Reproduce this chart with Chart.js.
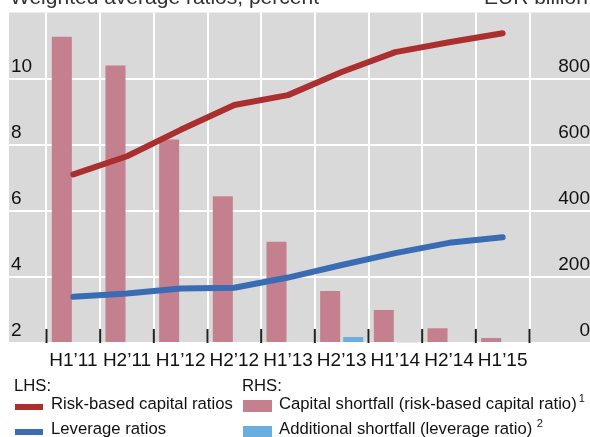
<!DOCTYPE html>
<html><head><meta charset="utf-8">
<script src="https://cdn.jsdelivr.net/npm/chart.js@4.4.1/dist/chart.umd.min.js"></script>
<style>
html,body{margin:0;padding:0;background:#fff;}
#wrap{position:relative;width:590px;height:437px;overflow:hidden;font-family:Arial,"Liberation Sans",sans-serif;color:#111;}
#c{position:absolute;left:0;top:0;}
.t{position:absolute;white-space:nowrap;font-size:16.7px;line-height:16.7px;}
.title{position:absolute;white-space:nowrap;font-size:21px;line-height:21px;color:#333;}
.sw{position:absolute;}
.sup{position:relative;font-size:11px;top:-7px;margin-left:2px;}
</style></head>
<body>
<div id="wrap">
<canvas id="c" width="590" height="437"></canvas>
<div class="title" style="left:10px;top:-13.8px;">Weighted average ratios, percent</div>
<div class="title" style="left:484px;top:-13.8px;">EUR billion</div>
<div class="t" style="left:14px;top:377.9px;">LHS:</div>
<div class="t" style="left:242px;top:377.9px;">RHS:</div>
<div class="sw" style="left:14.7px;top:404.3px;width:28.6px;height:5.7px;background:#ab2f2f;"></div>
<div class="t" style="left:51px;top:396.4px;">Risk-based capital ratios</div>
<div class="sw" style="left:14.7px;top:429.3px;width:28.6px;height:5.7px;background:#3a6cb4;"></div>
<div class="t" style="left:51px;top:421.4px;">Leverage ratios</div>
<div class="sw" style="left:243.3px;top:400.3px;width:28.4px;height:11.4px;background:#c4808f;"></div>
<div class="t" style="left:279px;top:396.4px;">Capital shortfall (risk-based capital ratio)<span class="sup">1</span></div>
<div class="sw" style="left:243.3px;top:426px;width:28.4px;height:11.4px;background:#6aaee0;"></div>
<div class="t" style="left:279px;top:421.4px;">Additional shortfall (leverage ratio) <span class="sup" style="margin-left:0">2</span></div>
</div>
<script>
const categories = ["H1\u201911","H2\u201911","H1\u201912","H2\u201912","H1\u201913","H2\u201913","H1\u201914","H2\u201914","H1\u201915"];
const riskBasedRatios = [7.1, 7.65, 8.45, 9.2, 9.5, 10.2, 10.8, 11.1, 11.37];
const leverageRatios = [3.4, 3.5, 3.65, 3.67, 3.98, 4.36, 4.72, 5.03, 5.2];
const capitalShortfall = [927, 840, 616, 444, 306, 157, 100, 45, 15];
const additionalShortfall = [0, 0, 0, 0, 0, 18, 2, 0, 0];
const leftTicks = [2, 4, 6, 8, 10, 12];
const rightTicks = [0, 200, 400, 600, 800, 1000];

const FONT = {family: 'Arial, "Liberation Sans", sans-serif', size: 19};

const bgPlugin = {
  id: 'bgPlugin',
  beforeDraw(chart) {
    const {ctx, chartArea: a} = chart;
    ctx.save();
    ctx.fillStyle = '#d9d9d9';
    const left = a.left - 37.5;
    ctx.fillRect(left, a.top, chart.width - left, a.bottom - a.top);
    ctx.restore();
  },
  afterDraw(chart) {
    const {ctx, chartArea: a} = chart;
    const xs = chart.scales.x;
    const w = xs.getPixelForValue(1) - xs.getPixelForValue(0);
    ctx.save();
    ctx.strokeStyle = '#222';
    ctx.lineWidth = 2;
    for (let i = 0; i <= categories.length; i++) {
      const px = xs.getPixelForValue(0) - w / 2 + i * w;
      ctx.beginPath();
      ctx.moveTo(px, a.bottom - 14);
      ctx.lineTo(px, a.bottom);
      ctx.stroke();
    }
    ctx.restore();
  }
};

new Chart(document.getElementById('c'), {
  data: {
    labels: categories,
    datasets: [
      {type: 'line', label: 'Risk-based capital ratios', data: riskBasedRatios, yAxisID: 'y',
       borderColor: '#ab2f2f', borderWidth: 6, pointRadius: 0, tension: 0,
       borderCapStyle: 'round', borderJoinStyle: 'round', order: 0},
      {type: 'line', label: 'Leverage ratios', data: leverageRatios, yAxisID: 'y',
       borderColor: '#3a6cb4', borderWidth: 6, pointRadius: 0, tension: 0,
       borderCapStyle: 'round', borderJoinStyle: 'round', order: 0},
      {type: 'bar', label: 'Capital shortfall (risk-based capital ratio)', data: capitalShortfall, yAxisID: 'y1',
       backgroundColor: '#c4808f', barPercentage: 0.87, categoryPercentage: 0.858, order: 1},
      {type: 'bar', label: 'Additional shortfall (leverage ratio)', data: additionalShortfall, yAxisID: 'y1',
       backgroundColor: '#6aaee0', barPercentage: 0.87, categoryPercentage: 0.858, order: 1}
    ]
  },
  options: {
    responsive: false,
    animation: false,
    devicePixelRatio: 1,
    layout: {padding: {left: 11, top: 12.5, right: 0, bottom: 0}},
    plugins: {legend: {display: false}, tooltip: {enabled: false}, title: {display: false}},
    scales: {
      x: {
        type: 'category',
        offset: true,
        grid: {color: '#ffffff', lineWidth: 2, offset: true, drawTicks: false},
        border: {display: false},
        ticks: {color: '#111', font: FONT, padding: 6, maxRotation: 0, autoSkip: false},
        afterFit: (s) => { s.height = 94; }
      },
      y: {
        position: 'left', min: 2, max: 12,
        afterBuildTicks: (s) => { s.ticks = leftTicks.map(v => ({value: v})); },
        grid: {color: '#ffffff', lineWidth: 2, tickLength: 37.5, tickColor: '#ffffff', drawTicks: true},
        border: {display: false},
        ticks: {color: '#111', font: FONT, padding: 0, crossAlign: 'far', labelOffset: -12,
                callback: (v) => (v === 12 ? null : String(v))},
        afterFit: (s) => { s.width = 35.5; }
      },
      y1: {
        position: 'right', min: 0, max: 1000,
        afterBuildTicks: (s) => { s.ticks = rightTicks.map(v => ({value: v})); },
        grid: {drawOnChartArea: false, color: '#ffffff', lineWidth: 2, tickLength: 61, tickColor: '#ffffff', drawTicks: true},
        border: {display: false},
        ticks: {color: '#111', font: FONT, padding: 0, crossAlign: 'far', labelOffset: -12,
                callback: (v) => (v === 1000 ? null : String(v))},
        afterFit: (s) => { s.width = 60.5; }
      }
    }
  },
  plugins: [bgPlugin]
});
</script>
</body></html>
